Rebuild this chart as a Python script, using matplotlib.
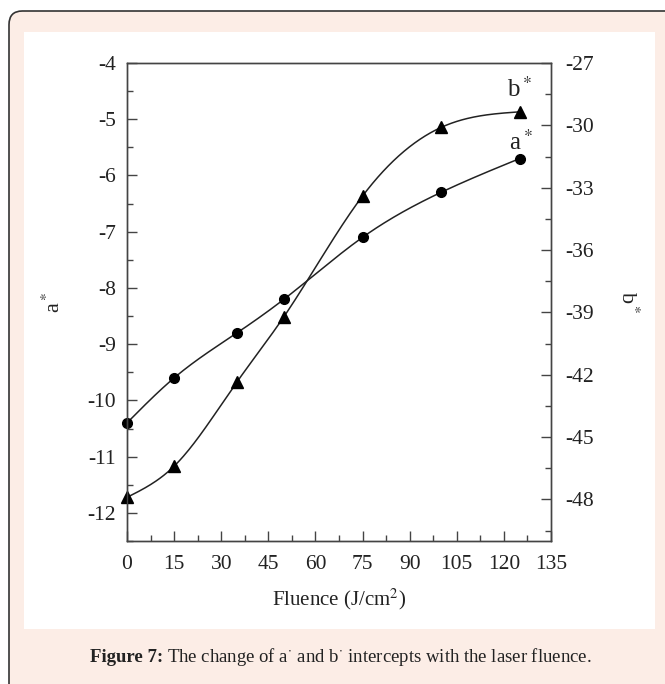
import matplotlib
matplotlib.use('Agg')
import matplotlib.pyplot as plt
import numpy as np
from matplotlib.patches import FancyBboxPatch, Rectangle
from matplotlib.ticker import MultipleLocator

# data
fluence = [0, 15, 35, 50, 75, 100, 125]
a_star = [-10.4, -9.6, -8.8, -8.2, -7.1, -6.3, -5.7]
b_star = [-47.9, -46.4, -42.35, -39.2, -33.4, -30.1, -29.35]

x_ticks = [0, 15, 30, 45, 60, 75, 90, 105, 120, 135]
a_ticks = [-12, -11, -10, -9, -8, -7, -6, -5, -4]
b_ticks = [-48, -45, -42, -39, -36, -33, -30, -27]

plt.rcParams['font.family'] = ['Liberation Serif', 'DejaVu Serif']
plt.rcParams['mathtext.fontset'] = 'stix'
plt.rcParams['axes.unicode_minus'] = False

INK = '#222222'
PEACH = '#fcede6'


def spline(x, y, n=300):
    """Natural cubic spline through the points."""
    x = np.asarray(x, float)
    y = np.asarray(y, float)
    N = len(x)
    h = np.diff(x)
    A = np.zeros((N, N))
    r = np.zeros(N)
    A[0, 0] = A[-1, -1] = 1
    for i in range(1, N - 1):
        A[i, i - 1] = h[i - 1]
        A[i, i] = 2 * (h[i - 1] + h[i])
        A[i, i + 1] = h[i]
        r[i] = 6 * ((y[i + 1] - y[i]) / h[i] - (y[i] - y[i - 1]) / h[i - 1])
    M = np.linalg.solve(A, r)
    xs = np.linspace(x[0], x[-1], n)
    k = np.clip(np.searchsorted(x, xs) - 1, 0, N - 2)
    a = x[k + 1] - xs
    b = xs - x[k]
    hk = h[k]
    ys = (M[k] * a**3 / (6 * hk) + M[k + 1] * b**3 / (6 * hk)
          + (y[k] / hk - M[k] * hk / 6) * a + (y[k + 1] / hk - M[k + 1] * hk / 6) * b)
    return xs, ys


fig = plt.figure(figsize=(6.65, 6.84), dpi=100, facecolor='white')
W, H = 665, 684

# page decoration: rounded frame, white panel
frame = FancyBboxPatch((9 / W, 1 - 700 / H), 680 / W, 689 / H,
                       boxstyle='round,pad=0,rounding_size=0.02',
                       transform=fig.transFigure, facecolor=PEACH,
                       edgecolor='#333333', linewidth=1.2, zorder=-3)
fig.patches.append(frame)
panel = Rectangle((24 / W, 1 - 629 / H), 631 / W, 597 / H,
                  transform=fig.transFigure, facecolor='white',
                  edgecolor='none', zorder=-2)
fig.patches.append(panel)

ax = fig.add_axes([127 / W, 1 - 541 / H, 424 / W, 478 / H])
ax.set_facecolor('none')
ax2 = ax.twinx()

xa, ya = spline(fluence, a_star)
xb, yb = spline(fluence, b_star)

ax.plot(xa, ya, color=INK, lw=1.1)
ax.plot(fluence, a_star, 'o', color='black', ms=7, clip_on=False)
ax2.plot(xb, yb, color=INK, lw=1.1)
ax2.plot(fluence, b_star, '^', color='black', ms=8.5, clip_on=False)

ax.set_xlim(0, 135)
ax.set_ylim(-12.5, -4)
ax2.set_ylim(-50, -27)
ax.set_xticks(x_ticks)
ax.set_yticks(a_ticks)
ax2.set_yticks(b_ticks)
ax.xaxis.set_minor_locator(MultipleLocator(7.5))
ax.yaxis.set_minor_locator(MultipleLocator(0.5))
ax2.yaxis.set_minor_locator(MultipleLocator(1.5))

for a in (ax, ax2):
    for s in a.spines.values():
        s.set_color('#444444')
        s.set_linewidth(1.0)
    a.tick_params(which='both', direction='in', colors='#444444',
                  labelcolor=INK, labelsize=15.5, width=1.0)
    a.tick_params(which='major', length=7)
    a.tick_params(which='minor', length=4)
ax.tick_params(axis='x', which='both', top=False, pad=10)
ax.tick_params(axis='y', which='both', right=False, pad=8)
ax2.tick_params(axis='y', which='both', left=False, pad=10)

ax.set_xlabel(r'Fluence (J/cm$^2$)', fontsize=15, color=INK, labelpad=9)
ax.set_ylabel(r'a$^*$', fontsize=16, color=INK, labelpad=16)
ax2.set_ylabel(r'b$^*$', fontsize=16, color=INK, rotation=-90,
               labelpad=24, va='center')

ax.text(125.5, -5.42, r'a$^*$', fontsize=18, color=INK, ha='center', va='center')
ax.text(125, -4.47, r'b$^*$', fontsize=18, color=INK, ha='center', va='center')

# caption with bold lead-in
renderer = fig.canvas.get_renderer()
cap_y = 1 - 662 / H
t1 = fig.text(90 / W, cap_y, 'Figure 7:', fontsize=13.5, fontweight='bold',
              color=INK, va='baseline', family=['Liberation Serif'])
bb = t1.get_window_extent(renderer)
fig.text(bb.x1 / W + 4 / W, cap_y,
         r'The change of a$^{\cdot}$ and b$^{\cdot}$ intercepts with the laser fluence.',
         fontsize=13.5, color=INK, va='baseline')

fig.savefig('out.png', dpi=100, facecolor=fig.get_facecolor())
